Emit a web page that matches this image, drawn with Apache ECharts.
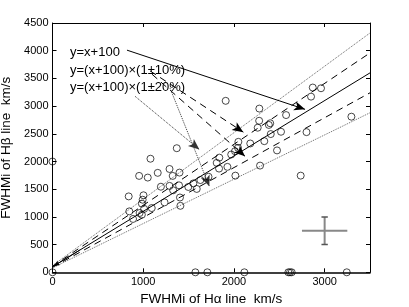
<!DOCTYPE html>
<html><head><meta charset="utf-8">
<script src="https://cdn.jsdelivr.net/npm/echarts@6/dist/echarts.min.js"></script>
<style>html,body{margin:0;padding:0;background:#fff}#c{width:409px;height:307px}</style>
</head><body><div id="c"></div>
<script>
// measured points [FWHMi Hα, FWHMi Hβ] km/s
const points = [
 [0,2000],[0,0],[1080,2050],[955,1740],[1050,1710],[1160,1795],[1290,1865],[1325,1740],[1400,1800],
 [840,1370],[1003,1390],[994,1310],[985,1240],[1195,1545],[1290,1560],[1330,1480],[1395,1570],
 [1405,1350],[1410,1200],[1235,1262],[1094,1160],[1010,1145],[847,1100],[960,1070],[985,1040],[888,963],
 [1497,1540],[1553,1605],[1590,1505],[1630,1665],[1720,1725],[1370,2240],[1909,3095],[2280,2955],
 [2278,2735],[2262,2610],[2385,2660],[2400,2690],[2406,2495],[2049,2355],[2180,2325],[2335,2367],
 [2475,2200],[1970,2126],[2012,2186],[2045,2247],[1839,2070],[1810,1975],[1836,1872],[1928,1903],
 [2288,1926],[2016,1745],[2736,1745],[2869,3335],[2960,3322],[2850,3171],[2575,2838],[2519,2537],
 [2800,2530],[3295,2809],
 [1575,0],[1707,0],[2115,0],[2600,0],[2618,0],[2637,0],[3244,0]
];
// reference lines (endpoints at x=0 and x=3500)
const lineMain = [[0,100],[3500,3600]];
const linePlus10 = [[0,110],[3500,3960]];
const lineMinus10 = [[0,90],[3500,3240]];
const linePlus20 = [[0,120],[3500,4320]];
const lineMinus20 = [[0,80],[3500,2880]];
// annotation texts
const labels = ['y=x+100','y=(x+100)×(1±10%)','y=(x+100)×(1±20%)'];
// annotation arrows [start, end] in data units
const arrowSolid = [[[821,4010],[2784,2941]]];
const arrowOrigin = [[[300,400],[15,115]]];
const arrowDashed = [[[1075,3636],[2104,2530]],[[1097,3575],[2122,2095]]];
const arrowDotted = [[[910,3177],[1619,2216]],[[1296,3322],[1729,1551]]];
// typical error bar
const errCenter = [3000,750];
const errHalfX = 250, errHalfY = 250, errCap = 35;
const xTicks = [0,1000,2000,3000];
const yTicks = [0,500,1000,1500,2000,2500,3000,3500,4000,4500];

const font = 'Liberation Sans, Arial, Helvetica, sans-serif';
const chart = echarts.init(document.getElementById('c'), null, {renderer:'canvas'});

function arrowML(list, type, color, size){
  return {
    silent:true, symbol:['none','arrow'], symbolSize:size || [7,11],
    lineStyle:{color:color, type:type, width:1},
    label:{show:false},
    data: list.map(a => [{coord:a[0]},{coord:a[1]}])
  };
}
function lineSeries(d, type, color){
  return {type:'line', data:d, symbol:'none', silent:true, animation:false,
    lineStyle:{color:color, width:1, type:type}, z:2};
}
const ex = errCenter[0], ey = errCenter[1];
const errH = [[ex-errHalfX,ey],[ex+errHalfX,ey]];
const errV = [[ex,ey-errHalfY],[ex,ey+errHalfY]];
const capT = [[ex-errCap,ey+errHalfY],[ex+errCap,ey+errHalfY]];
const capB = [[ex-errCap,ey-errHalfY],[ex+errCap,ey-errHalfY]];

const axisCommon = {
  type:'value', splitLine:{show:false},
  axisLine:{show:true, onZero:false, lineStyle:{color:'#000', width:1}},
  axisTick:{show:true, inside:true, length:4, lineStyle:{color:'#000'}},
};
chart.setOption({
  animation:false,
  grid:{left:52.5, right:39, top:23, bottom:34.7, show:false, containLabel:false, outerBoundsMode:'none'},
  xAxis:[
    Object.assign({}, axisCommon, {min:0, max:3500, interval:1000, position:'bottom',
      axisLine:{show:true,onZero:false,lineStyle:{color:'#000',width:1.5}},
      axisLabel:{color:'#000', fontSize:11, fontFamily:font, margin:4,
        formatter:v => xTicks.includes(v) ? String(v) : ''},
      name:'FWHMi of Hα line  km/s', nameLocation:'middle', nameGap:17,
      nameTextStyle:{color:'#000', fontSize:13.5, fontFamily:font}}),
    Object.assign({}, axisCommon, {min:0, max:3500, interval:1000, position:'top',
      axisLabel:{show:false}})
  ],
  yAxis:[
    Object.assign({}, axisCommon, {min:0, max:4500, interval:500, position:'left',
      axisLabel:{color:'#000', fontSize:11, fontFamily:font, margin:4,
        formatter:v => yTicks.includes(v) ? String(v) : ''},
      name:'FWHMi of Hβ line  km/s', nameLocation:'middle', nameGap:36,
      nameTextStyle:{color:'#000', fontSize:13.5, fontFamily:font}}),
    Object.assign({}, axisCommon, {min:0, max:4500, interval:500, position:'right',
      axisLabel:{show:false}})
  ],
  series:[
    lineSeries(linePlus20,'dotted','#666'),
    lineSeries(lineMinus20,'dotted','#666'),
    lineSeries(linePlus10,[7,5],'#000'),
    lineSeries(lineMinus10,[7,5],'#000'),
    Object.assign(lineSeries(lineMain,'solid','#000'), {markLine: arrowML(arrowSolid,'solid','#000')}),
    Object.assign(lineSeries([],'solid','#000'), {markLine: arrowML(arrowOrigin,'solid','#000',[4,6])}),
    Object.assign(lineSeries([],'solid','#000'), {markLine: arrowML(arrowDashed,[7,5],'#000')}),
    Object.assign(lineSeries([],'solid','#000'), {markLine: arrowML(arrowDotted,'dotted','#333')}),
    {type:'line', data:errH, symbol:'none', lineStyle:{color:'#888', width:2}, silent:true},
    {type:'line', data:errV, symbol:'none', lineStyle:{color:'#888', width:2}, silent:true},
    {type:'line', data:capT, symbol:'none', lineStyle:{color:'#555', width:1.5}, silent:true},
    {type:'line', data:capB, symbol:'none', lineStyle:{color:'#555', width:1.5}, silent:true},
    {type:'scatter', data:points, symbol:'circle', symbolSize:7, z:5,
      itemStyle:{color:'rgba(0,0,0,0)', borderColor:'#000', borderWidth:0.9}}
  ],
  graphic: labels.map((t,i) => ({
    type:'text', left:70, top:46 + i*17.5,
    style:{text:t, fill:'#000', fontSize:13, fontFamily:font}
  }))
});
</script></body></html>
